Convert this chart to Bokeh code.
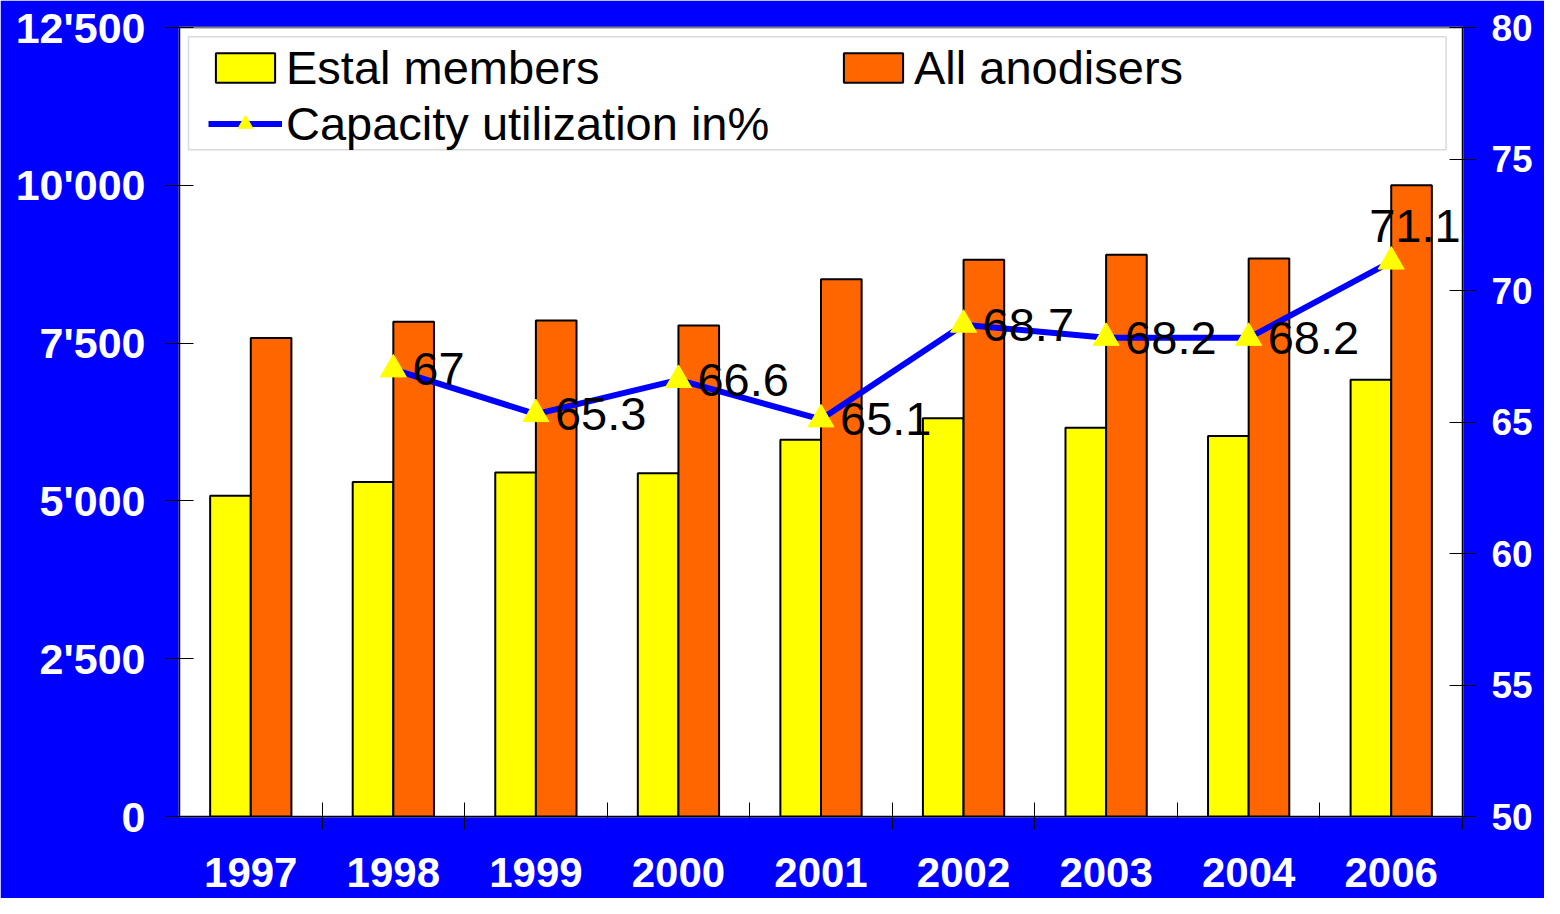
from bokeh.plotting import figure
from bokeh.models import (Range1d, LinearAxis, FixedTicker, ColumnDataSource, Label,
                          Legend, LegendItem, BoxAnnotation)
from bokeh.transform import dodge
from bokeh.embed import file_html
from bokeh.resources import INLINE

# ---- data ----
years = ["1997", "1998", "1999", "2000", "2001", "2002", "2003", "2004", "2006"]
estal_members = [5080, 5300, 5450, 5440, 5970, 6310, 6160, 6030, 6920]
all_anodisers = [7580, 7840, 7860, 7780, 8510, 8820, 8900, 8840, 10000]
capacity_pct = [None, 67, 65.3, 66.6, 65.1, 68.7, 68.2, 68.2, 71.1]
left_ticks = [0, 2500, 5000, 7500, 10000, 12500]
left_tick_labels = ["0", "2'500", "5'000", "7'500", "10'000", "12'500"]
right_ticks = [50, 55, 60, 65, 70, 75, 80]

FONT = "Liberation Sans"
BLUE = "#0000FF"
YELLOW = "#FFFF00"
ORANGE = "#FF6600"

n = len(years)
centers = [i + 0.5 for i in range(n)]
bounds = list(range(n + 1))
bar_src = ColumnDataSource(dict(x=centers, estal=estal_members, allan=all_anodisers))
idx = [i for i, v in enumerate(capacity_pct) if v is not None]
line_src = ColumnDataSource(dict(x=[centers[i] for i in idx],
                                 y=[capacity_pct[i] for i in idx]))

p = figure(width=1544, height=898, x_range=Range1d(0, n), y_range=Range1d(0, 12500),
           output_backend="svg", toolbar_location=None,
           min_border_left=179, min_border_right=82, min_border_top=27, min_border_bottom=82,
           background_fill_color="white", border_fill_color=BLUE,
           outline_line_color="#808080", outline_line_width=2)
p.xgrid.visible = False
p.ygrid.visible = False
p.extra_y_ranges = {"pct": Range1d(50, 80)}

bw = 0.285
r_est = p.vbar(x=dodge("x", -bw / 2), top="estal", width=bw, source=bar_src,
               fill_color=YELLOW, line_color="black", line_width=2)
r_all = p.vbar(x=dodge("x", bw / 2), top="allan", width=bw, source=bar_src,
               fill_color=ORANGE, line_color="black", line_width=2)
r_line = p.line(x="x", y="y", source=line_src, y_range_name="pct",
                line_color=BLUE, line_width=6)
r_pts = p.scatter(x="x", y="y", source=line_src, y_range_name="pct", marker="triangle",
                  size=26, fill_color=YELLOW, line_color=YELLOW)

# data labels: right of each point; the last one is lifted so it stays inside the frame
for k, i in enumerate(idx):
    last = (k == len(idx) - 1)
    p.add_layout(Label(x=centers[i], y=capacity_pct[i], text=f"{capacity_pct[i]:g}",
                       y_range_name="pct",
                       x_offset=-22 if last else 19, y_offset=36 if last else 0,
                       text_align="left", text_baseline="middle",
                       text_font=FONT, text_font_size="47px", text_color="black"))

# x axis: labels at category centres, tick marks at category boundaries
xa = p.xaxis[0]
xa.ticker = FixedTicker(ticks=centers, minor_ticks=bounds)
xa.major_label_overrides = {c: y for c, y in zip(centers, years)}
xa.major_tick_in = 0
xa.major_tick_out = 0
xa.minor_tick_in = 14
xa.minor_tick_out = 13
xa.minor_tick_line_color = "black"
xa.axis_line_color = "black"
xa.major_label_standoff = 28
xa.major_label_text_font = FONT
xa.major_label_text_font_size = "42px"
xa.major_label_text_font_style = "bold"
xa.major_label_text_color = "white"

ya = p.yaxis[0]
ya.ticker = FixedTicker(ticks=left_ticks)
ya.major_label_overrides = {t: s for t, s in zip(left_ticks, left_tick_labels)}
ya.major_tick_in = 14
ya.major_tick_out = 14
ya.minor_tick_line_color = None
ya.axis_line_color = "black"
ya.major_label_standoff = 20
ya.major_label_text_font = FONT
ya.major_label_text_font_size = "43px"
ya.major_label_text_font_style = "bold"
ya.major_label_text_color = "white"

ra = LinearAxis(y_range_name="pct", ticker=FixedTicker(ticks=right_ticks))
ra.major_tick_in = 13
ra.major_tick_out = 13
ra.minor_tick_line_color = None
ra.axis_line_color = "black"
ra.major_label_standoff = 16
ra.major_label_text_font = FONT
ra.major_label_text_font_size = "37px"
ra.major_label_text_font_style = "bold"
ra.major_label_text_color = "white"
p.add_layout(ra, "right")

# legend frame
p.add_layout(BoxAnnotation(left=0.063, right=8.885, top=12355, bottom=10565,
                           fill_color="white", fill_alpha=1,
                           line_color="#808080", line_width=1.5))

legend = Legend(items=[LegendItem(label="Estal members", renderers=[r_est]),
                       LegendItem(label="All anodisers", renderers=[r_all]),
                       LegendItem(label="Capacity utilization in%", renderers=[r_line, r_pts])],
                location=(29, 665), orientation="horizontal", ncols=2,
                padding=0, margin=0, spacing=0,
                glyph_width=74, glyph_height=37, label_standoff=4,
                label_width=550, label_height=56,
                label_text_font=FONT, label_text_font_size="47px", label_text_color="black",
                border_line_color=None, background_fill_alpha=0)
p.add_layout(legend)

open("out.html", "w").write(file_html(p, INLINE))
